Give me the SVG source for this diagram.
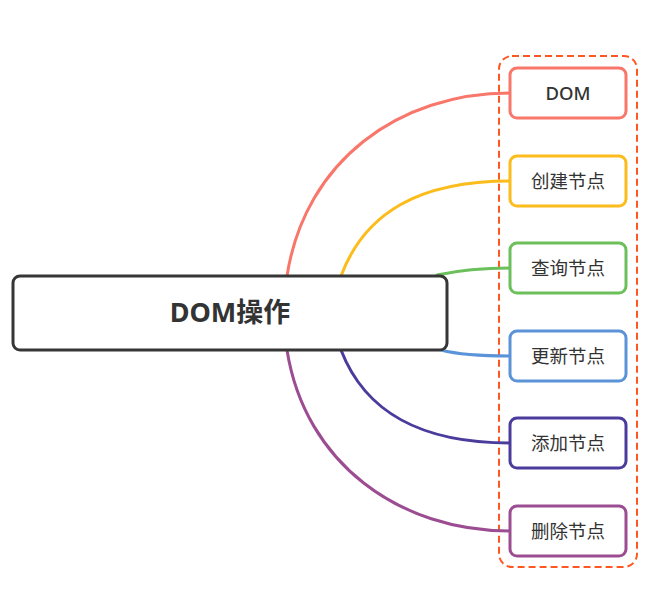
<svg xmlns="http://www.w3.org/2000/svg" width="647" height="594" viewBox="0 0 647 594">
<style>
.c{fill:none;stroke-width:3;stroke-linecap:round}
.n{fill:#fff;stroke-width:3}
.t{font-family:"Noto Sans","Noto Sans CJK SC",sans-serif;font-size:18.5px;fill:#333;text-anchor:middle;dominant-baseline:central}
</style>
<rect width="647" height="594" fill="#fff"/>
<rect x="499" y="56" width="138" height="511" rx="13" fill="none" stroke="#ff5722" stroke-width="2" stroke-dasharray="7,4"/>
<g id="connectors">
<path class="c" stroke="#f8776a" d="M287,276 C305,160 400,93 510,93"/>
<path class="c" stroke="#fbbc1c" d="M341,276 C365,212 420,181 510,181"/>
<path class="c" stroke="#6cc05c" d="M437,275 C460,270 480,268 510,268"/>
<path class="c" stroke="#5b93d8" d="M441,350 C460,355 480,356 510,356"/>
<path class="c" stroke="#4a3c9c" d="M341,350 C365,412 420,443 510,443"/>
<path class="c" stroke="#9c4d92" d="M287,350 C305,464 400,531 510,531"/>
</g>
<g id="root">
<rect x="13" y="276" width="434" height="74" rx="7" fill="#fff" stroke="#363636" stroke-width="3"/>
<text x="230" y="311" class="t" style="font-size:27px;font-weight:bold">DOM操作</text>
</g>
<g id="n1"><rect class="n" x="510" y="68" width="116" height="50" rx="7" stroke="#f8776a"/><text class="t" x="568" y="92" style="font-weight:500">DOM</text></g>
<g id="n2"><rect class="n" x="510" y="156" width="116" height="50" rx="7" stroke="#fbbc1c"/><text class="t" x="568" y="180">创建节点</text></g>
<g id="n3"><rect class="n" x="510" y="243" width="116" height="50" rx="7" stroke="#6cc05c"/><text class="t" x="568" y="267">查询节点</text></g>
<g id="n4"><rect class="n" x="510" y="331" width="116" height="50" rx="7" stroke="#5b93d8"/><text class="t" x="568" y="355">更新节点</text></g>
<g id="n5"><rect class="n" x="510" y="418" width="116" height="50" rx="7" stroke="#4a3c9c"/><text class="t" x="568" y="442">添加节点</text></g>
<g id="n6"><rect class="n" x="510" y="506" width="116" height="50" rx="7" stroke="#9c4d92"/><text class="t" x="568" y="530">删除节点</text></g>
</svg>
